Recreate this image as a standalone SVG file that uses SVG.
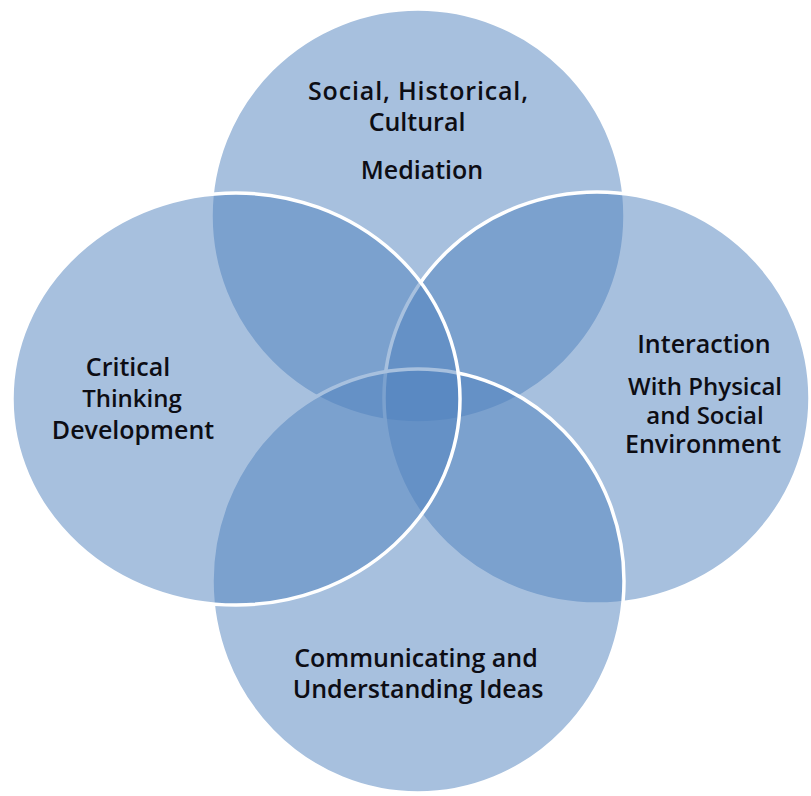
<svg xmlns="http://www.w3.org/2000/svg" width="811" height="796" viewBox="0 0 811 796">
  <style>
    .bubble { fill: #4f81bd; fill-opacity: 0.5; stroke: #ffffff; stroke-width: 3.5; }
    .label { font-family: "Open Sans", "Liberation Sans", sans-serif; font-weight: 600; font-size: 25px; fill: #0d0d14; text-anchor: middle; }
    .tight { font-size: 24px; }
  </style>
  <rect width="811" height="796" fill="#ffffff"/>

  <!-- circles, back to front -->
  <g id="node-social">
    <ellipse class="bubble" cx="418" cy="216" rx="207" ry="207"/>
    <text class="label" x="418" y="100" textLength="220" lengthAdjust="spacing">Social, Historical,</text>
    <text class="label" x="417" y="131">Cultural</text>
    <text class="label" x="422" y="179">Mediation</text>
  </g>
  <g id="node-interaction">
    <ellipse class="bubble" cx="597" cy="398" rx="213" ry="206"/>
  </g>
  <g id="node-communicating">
    <ellipse class="bubble" cx="418" cy="581" rx="206" ry="212"/>
  </g>
  <g id="node-critical">
    <ellipse class="bubble" cx="236" cy="399" rx="224" ry="206"/>
  </g>

  <!-- labels drawn above all fills -->
  <g id="labels">
    <text class="label" x="704" y="353">Interaction</text>
    <text class="label tight" x="705" y="395">With Physical</text>
    <text class="label tight" x="705" y="424">and Social</text>
    <text class="label" x="703" y="453">Environment</text>

    <text class="label" x="416" y="667">Communicating and</text>
    <text class="label" x="418" y="698">Understanding Ideas</text>

    <text class="label" x="128" y="376">Critical</text>
    <text class="label tight" x="132" y="407">Thinking</text>
    <text class="label" x="133" y="439">Development</text>
  </g>
</svg>
